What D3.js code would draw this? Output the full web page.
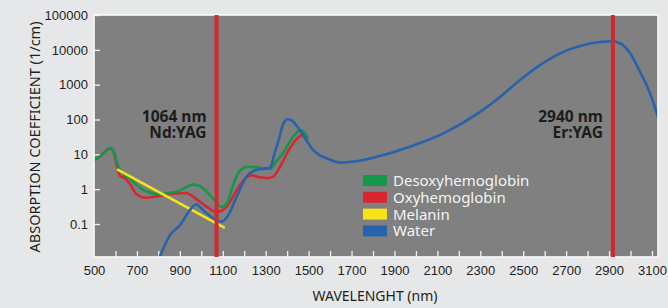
<!DOCTYPE html>
<html>
<head>
<meta charset="utf-8">
<script src="https://cdn.jsdelivr.net/npm/d3@7"></script>
<style>
  body { margin: 0; background: #e6e7e8; }
  svg { display: block; font-family: "Noto Sans", sans-serif; }
</style>
</head>
<body>
<div id="chart"></div>
<script>
// absorption spectra, [wavelength nm, coefficient 1/cm]
var desoxy = [
  [500, 6.9], [530, 8.8], [555, 12.5], [578, 15.5], [595, 11], [613, 4.4],
  [640, 2.6], [668, 2.0], [700, 1.3], [728, 0.95], [770, 0.78], [808, 0.72],
  [850, 0.78], [885, 0.85], [925, 1.1], [960, 1.35], [990, 1.25], [1030, 0.8],
  [1065, 0.45], [1095, 0.31], [1120, 0.4], [1148, 1.3], [1180, 3.4], [1215, 4.4],
  [1250, 4.3], [1290, 3.9], [1320, 3.9], [1351, 6.5], [1381, 11], [1410, 22],
  [1437, 38], [1463, 50], [1480, 42], [1495, 30]
];
var oxy = [
  [500, 6.9], [530, 8.8], [555, 12.5], [578, 15], [595, 10], [610, 4],
  [621, 2.4], [644, 2.05], [668, 1.4], [699, 0.7], [738, 0.57], [792, 0.62],
  [870, 0.75], [932, 0.78], [960, 0.62], [990, 0.45], [1030, 0.3], [1072, 0.22],
  [1100, 0.25], [1125, 0.35], [1165, 0.95], [1204, 2.0], [1235, 2.5], [1270, 2.2],
  [1310, 2.1], [1335, 2.3], [1367, 4.4], [1400, 11], [1429, 21], [1450, 30],
  [1468, 35], [1490, 26]
];
var melanin = [[612, 3.6], [1105, 0.08]];
var water = [
  [800, 0.009], [830, 0.025], [854, 0.048], [901, 0.093], [947, 0.25], [975, 0.37],
  [1009, 0.25], [1056, 0.145], [1095, 0.117], [1126, 0.18], [1165, 0.61], [1211, 2.3],
  [1250, 3.5], [1280, 3.8], [1320, 4.1], [1340, 10], [1360, 25], [1380, 70],
  [1400, 102], [1420, 95], [1445, 65], [1483, 30], [1514, 15], [1545, 10],
  [1584, 7.7], [1650, 5.8], [1720, 6.3], [1817, 8.5], [1972, 16.6], [2128, 40],
  [2299, 166], [2392, 445], [2485, 1360], [2578, 3640], [2672, 7950], [2765, 12800],
  [2858, 16700], [2912, 17600], [2951, 15500], [2998, 7950], [3044, 2350], [3091, 560],
  [3128, 120]
];

var seriesNames = ["Desoxyhemoglobin", "Oxyhemoglobin", "Melanin", "Water"];
var seriesColors = ["#15974a", "#d6282e", "#f6e31a", "#2762ac"];

var laserNm = [1071, 2918];          // where the red markers sit in the picture
var laserText = [["1064 nm", "Nd:YAG"], ["2940 nm", "Er:YAG"]];

var yTicks = [0.1, 1, 10, 100, 1000, 10000, 100000];
var xTickLabels = [500, 700, 900, 1100, 1300, 1500, 1700, 1900, 2100, 2300, 2500, 2700, 2900, 3100];

var W = 668, H = 308;
var plot = {left: 94, top: 15, right: 658, bottom: 257};

var svg = d3.select('#chart')
  .append('svg')
  .attr('width', W)
  .attr('height', H);

var x = d3.scaleLinear()
  .domain([500, 3128])
  .range([plot.left, plot.right]);

var y = d3.scaleLog()
  .domain([0.0113, 100000])
  .range([plot.bottom, plot.top]);

// grey plotting field
svg.append('rect')
  .attr('x', plot.left)
  .attr('y', plot.top)
  .attr('width', plot.right - plot.left)
  .attr('height', plot.bottom - plot.top)
  .attr('fill', '#7f807f');

svg.append('clipPath')
  .attr('id', 'clip')
  .append('rect')
  .attr('x', plot.left)
  .attr('y', plot.top)
  .attr('width', plot.right - plot.left)
  .attr('height', plot.bottom - plot.top);

// y axis: ticks point inwards
svg.append('g')
  .attr('transform', 'translate(' + plot.left + ',0)')
  .call(d3.axisLeft(y)
    .tickValues(yTicks)
    .tickFormat(function (d) { return String(d); })
    .tickSizeInner(-6)
    .tickSizeOuter(0)
    .tickPadding(6));

// x axis: small ticks every 100 nm, labels every 200
svg.append('g')
  .attr('transform', 'translate(0,' + plot.bottom + ')')
  .call(d3.axisBottom(x)
    .tickValues(d3.range(600, 3200, 100))
    .tickFormat('')
    .tickSizeInner(-6)
    .tickSizeOuter(0));

svg.append('g')
  .attr('transform', 'translate(0,' + plot.bottom + ')')
  .call(d3.axisBottom(x)
    .tickValues(xTickLabels)
    .tickFormat(function (d) { return String(d); })
    .tickSize(0)
    .tickPadding(9));

svg.selectAll('.domain').remove();
svg.selectAll('.tick line').attr('stroke', '#f2f2f2').attr('stroke-width', 1.3);
svg.selectAll('.tick text')
  .attr('fill', '#231f20')
  .style('font-size', '13px');

// curves
var smooth = d3.line()
  .x(function (d) { return x(d[0]); })
  .y(function (d) { return y(d[1]); })
  .curve(d3.curveMonotoneX);

var straight = d3.line()
  .x(function (d) { return x(d[0]); })
  .y(function (d) { return y(d[1]); });

var curves = svg.append('g').attr('clip-path', 'url(#clip)');
var allSeries = [desoxy, oxy, melanin, water];
var drawOrder = [1, 0, 2, 3];

drawOrder.forEach(function (i) {
  curves.append('path')
    .datum(allSeries[i])
    .attr('d', i === 2 ? straight : smooth)
    .attr('fill', 'none')
    .attr('stroke', seriesColors[i])
    .attr('stroke-width', 2.6)
    .attr('stroke-linejoin', 'round')
    .attr('stroke-linecap', 'round');
});

// white frame
svg.append('rect')
  .attr('x', plot.left)
  .attr('y', plot.top)
  .attr('width', plot.right - plot.left)
  .attr('height', plot.bottom - plot.top)
  .attr('fill', 'none')
  .attr('stroke', '#fafafa')
  .attr('stroke-width', 1.6);

// laser markers
laserNm.forEach(function (nm, i) {
  svg.append('line')
    .attr('x1', x(nm))
    .attr('x2', x(nm))
    .attr('y1', plot.top)
    .attr('y2', plot.bottom)
    .attr('stroke', '#d2282e')
    .attr('stroke-width', 4);

  laserText[i].forEach(function (s, k) {
    svg.append('text')
      .attr('x', x(nm) - 10)
      .attr('y', 122 + k * 16)
      .attr('text-anchor', 'end')
      .attr('fill', '#1d1d1b')
      .style('font-size', '15.5px')
      .style('font-weight', 'bold')
      .text(s);
  });
});

// legend
var legend = svg.append('g')
  .attr('transform', 'translate(363,175)');

seriesNames.forEach(function (name, i) {
  legend.append('rect')
    .attr('x', 0)
    .attr('y', i * 16.8)
    .attr('width', 24)
    .attr('height', 11)
    .attr('fill', seriesColors[i]);
  legend.append('text')
    .attr('x', 30)
    .attr('y', i * 16.8 + 11)
    .attr('fill', '#f4f4f4')
    .style('font-size', '15px')
    .text(name);
});

// axis titles
svg.append('text')
  .attr('transform', 'translate(40,137) rotate(-90)')
  .attr('text-anchor', 'middle')
  .attr('fill', '#231f20')
  .style('font-size', '14.5px')
  .text('ABSORPTION COEFFICIENT (1/cm)');

svg.append('text')
  .attr('x', 375)
  .attr('y', 301)
  .attr('text-anchor', 'middle')
  .attr('fill', '#231f20')
  .style('font-size', '14px')
  .text('WAVELENGHT (nm)');
</script>
</body>
</html>
